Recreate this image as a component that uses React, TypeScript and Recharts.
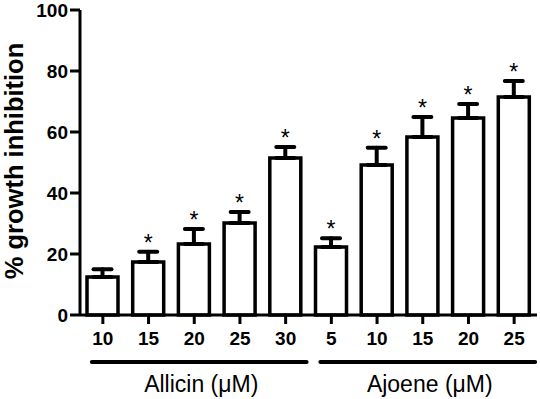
import React from "react";
import { BarChart, Bar, XAxis, YAxis, ErrorBar, LabelList } from "recharts";

// concentrations (µM) on the x axis
const concentrations = ["10", "15", "20", "25", "30", "5", "10", "15", "20", "25"];
const compounds = ["Allicin", "Allicin", "Allicin", "Allicin", "Allicin", "Ajoene", "Ajoene", "Ajoene", "Ajoene", "Ajoene"];
const inhibition = [12.5, 17.4, 23.3, 30.2, 51.5, 22.3, 49.2, 58.4, 64.6, 71.5];
const sem = [2.5, 3.3, 4.9, 3.6, 3.6, 2.9, 5.6, 6.5, 4.6, 5.2];
const significant = [false, true, true, true, true, true, true, true, true, true];
const yTicks = [0, 20, 40, 60, 80, 100];

const data = concentrations.map((c, i) => ({
  conc: c,
  compound: compounds[i],
  value: inhibition[i],
  err: [0, sem[i]],
  star: significant[i],
}));

const CHART_W = 540;
const CHART_H = 399;
const Y_AXIS_W = 80;
const MARGIN = { top: 10, right: 3, left: 0, bottom: 0 };
const STEP = (CHART_W - Y_AXIS_W - MARGIN.left - MARGIN.right) / data.length;
const FONT = "Arial, 'Liberation Sans', sans-serif";

const XTick = (props: any) => {
  const { x, y, payload } = props;
  const i = payload.index;
  const compound = compounds[i];
  const isFirst = i === 0 || compounds[i - 1] !== compound;
  let group = null;
  if (isFirst) {
    const count = compounds.filter((c) => c === compound).length;
    const x1 = x - 11;
    const x2 = x + (count - 1) * STEP + 21;
    group = (
      <g>
        <line x1={x1} x2={x2} y1={y + 36} y2={y + 36} stroke="#000" strokeWidth={4} strokeLinecap="round" />
        <text x={(x1 + x2) / 2 + 2} y={y + 66} textAnchor="middle" fontFamily={FONT} fontSize={23} fill="#000">
          {compound} (μM)
        </text>
      </g>
    );
  }
  return (
    <g>
      <text x={x} y={y + 19} textAnchor="middle" fontFamily={FONT} fontSize={19} fontWeight="bold" fill="#000">
        {payload.value}
      </text>
      {group}
    </g>
  );
};

const Star = (props: any) => {
  const { x, y, width, height, index } = props;
  if (!data[index].star) return null;
  const k = height / data[index].value;
  const capY = y - sem[index] * k;
  return (
    <text x={x + width / 2} y={capY - 1} textAnchor="middle" fontFamily={FONT} fontSize={23} fill="#000">
      *
    </text>
  );
};

const YLabel = () => (
  <text
    x={23}
    y={161}
    transform="rotate(-90, 23, 161)"
    textAnchor="middle"
    fontFamily={FONT}
    fontSize={25.5}
    fontWeight="bold"
    fill="#000"
  >
    % growth inhibition
  </text>
);

export default function App() {
  return (
    <div style={{ position: "absolute", left: 0, top: 0, background: "#fff", width: CHART_W, height: CHART_H }}>
      <BarChart width={CHART_W} height={CHART_H} data={data} margin={MARGIN}>
        <XAxis
          dataKey="conc"
          height={84}
          interval={0}
          axisLine={{ stroke: "#000", strokeWidth: 3 }}
          tickLine={{ stroke: "#000", strokeWidth: 3 }}
          tickSize={9}
          tickMargin={2}
          tick={<XTick />}
        />
        <YAxis
          width={Y_AXIS_W}
          domain={[0, 100]}
          ticks={yTicks}
          interval={0}
          axisLine={{ stroke: "#000", strokeWidth: 3 }}
          tickLine={{ stroke: "#000", strokeWidth: 3 }}
          tickSize={10}
          tickMargin={2}
          tick={{ fill: "#000", fontFamily: FONT, fontSize: 19, fontWeight: "bold" }}
          label={<YLabel />}
        />
        <Bar
          dataKey="value"
          fill="#fff"
          stroke="#000"
          strokeWidth={3.5}
          barSize={31}
          isAnimationActive={false}
        >
          <ErrorBar dataKey="err" direction="y" width={9} stroke="#000" strokeWidth={4} strokeLinecap="round" />
          <LabelList dataKey="value" content={<Star />} />
        </Bar>
      </BarChart>
    </div>
  );
}
